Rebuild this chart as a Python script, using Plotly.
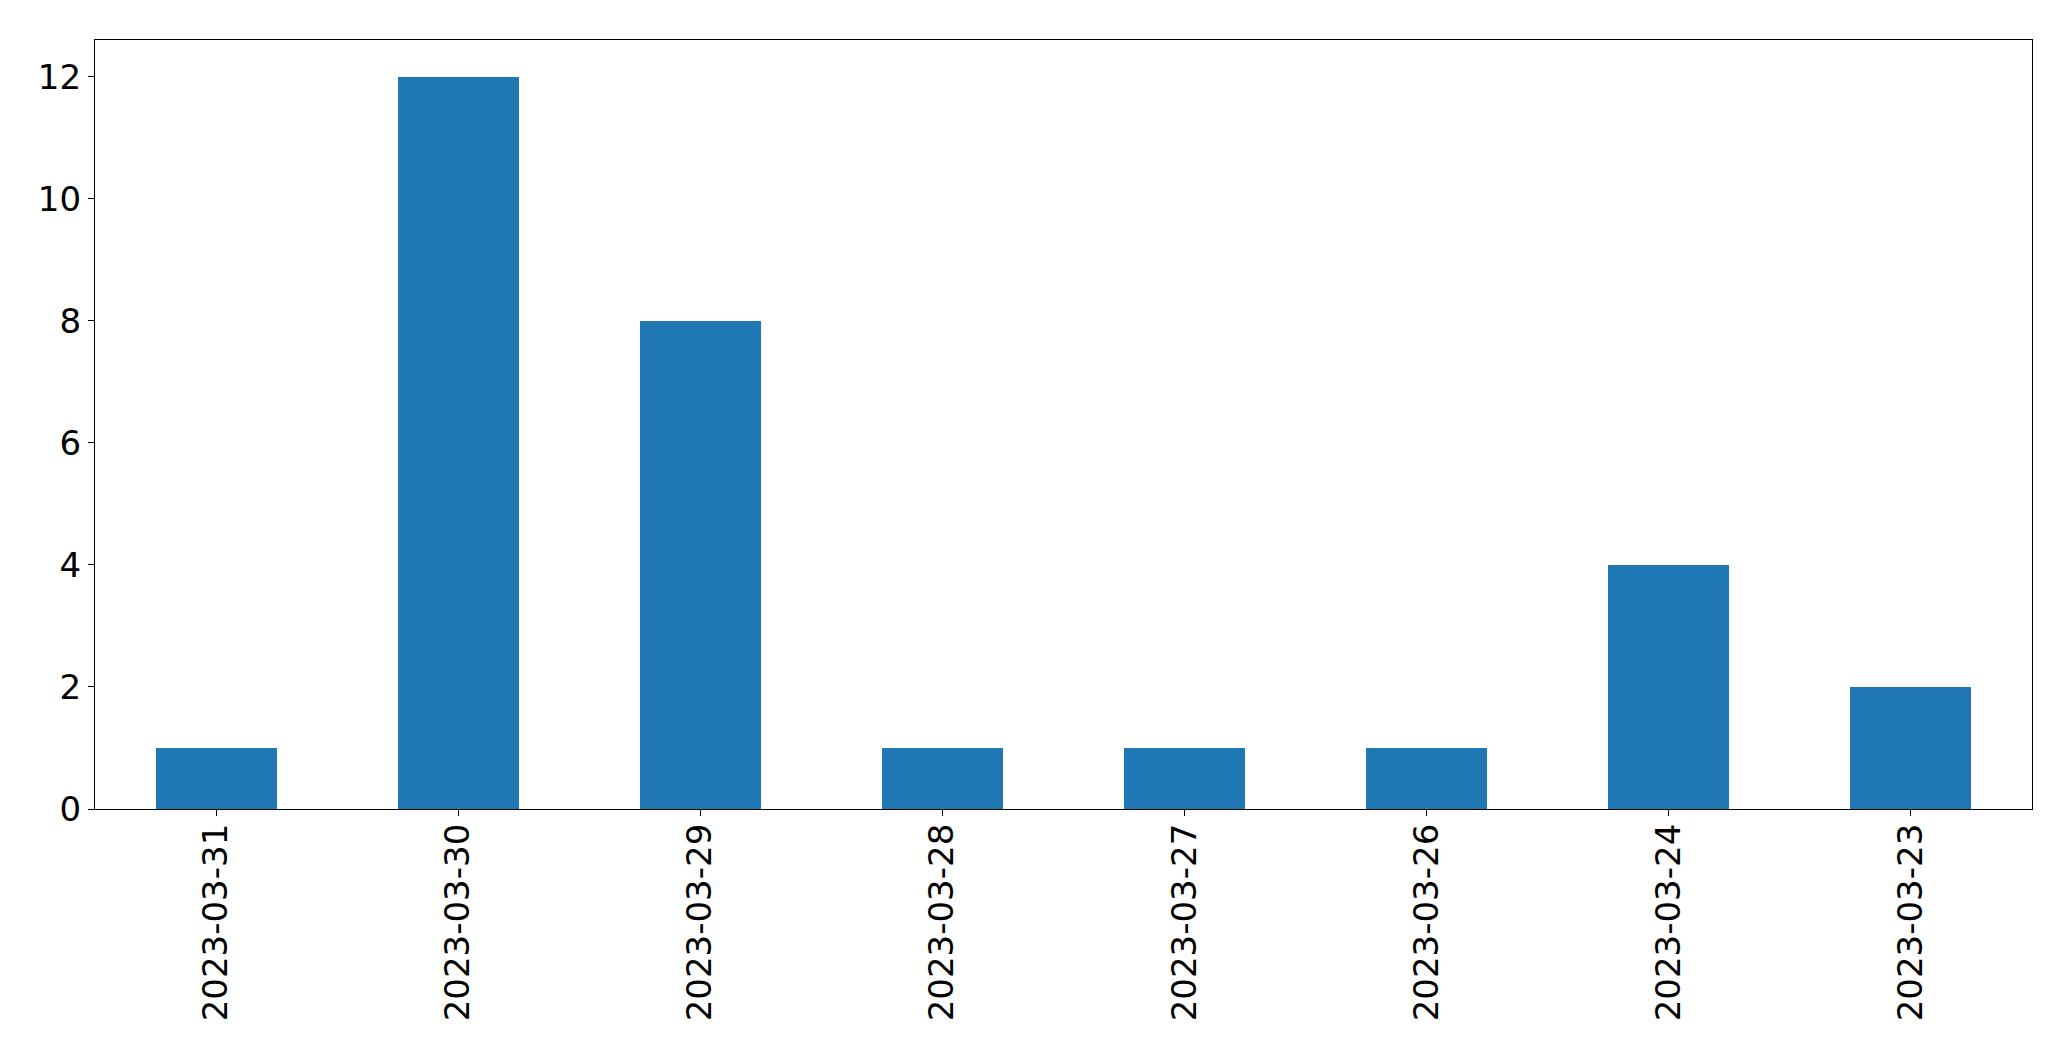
import plotly.graph_objects as go

dates = ["2023-03-31", "2023-03-30", "2023-03-29", "2023-03-28",
         "2023-03-27", "2023-03-26", "2023-03-24", "2023-03-23"]
counts = [1, 12, 8, 1, 1, 1, 4, 2]

fig = go.Figure(go.Bar(x=list(range(len(dates))), y=counts, width=0.5,
                       marker=dict(color="#1f77b4", line=dict(width=0))))

fig.update_layout(
    width=2063, height=1053,
    margin=dict(l=87, r=39, t=32, b=252, pad=0),
    paper_bgcolor="white", plot_bgcolor="white",
    font=dict(family="DejaVu Sans", size=34, color="black"),
    showlegend=False, bargap=0,
)
fig.update_xaxes(
    range=[-0.5, len(dates) - 0.5],
    tickmode="array", tickvals=list(range(len(dates))), ticktext=dates,
    tickangle=-90, ticks="outside", ticklen=6, tickwidth=1.3, tickcolor="black",
    ticklabelstandoff=-6,
    showline=True, linecolor="black", linewidth=1.3, mirror=True,
    showgrid=False, zeroline=False,
)
fig.update_yaxes(
    range=[0, 12.6], tickvals=[0, 2, 4, 6, 8, 10, 12],
    ticks="outside", ticklen=6, tickwidth=1.3, tickcolor="black",
    showline=True, linecolor="black", linewidth=1.3, mirror=True,
    showgrid=False, zeroline=False,
)
fig.write_html("out.html")
